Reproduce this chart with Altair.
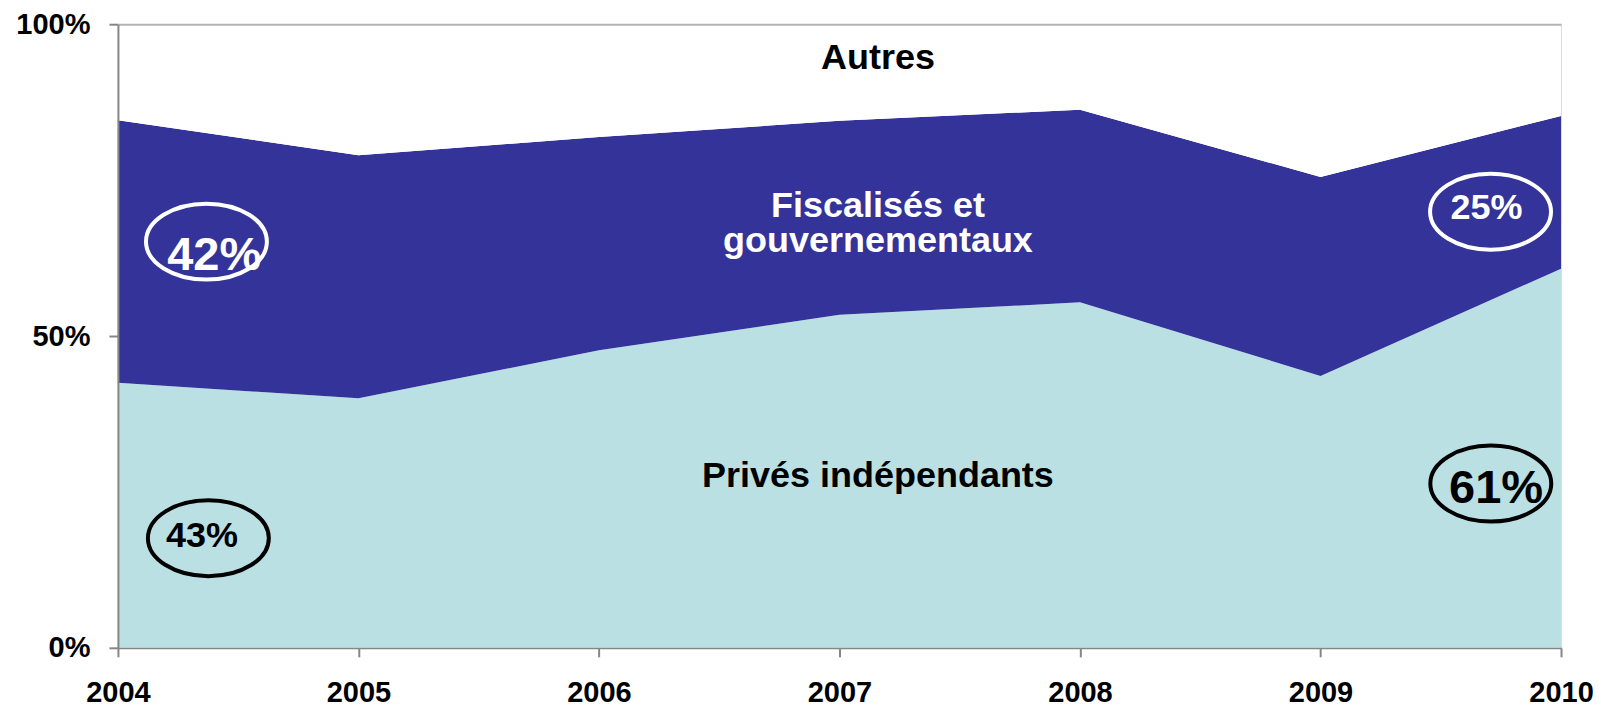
import altair as alt
import pandas as pd

# ---- data ----
years = [2004, 2005, 2006, 2007, 2008, 2009, 2010]
prives = [42.5, 40.0, 47.7, 53.4, 55.4, 43.6, 60.8]
fiscalises = [42.1, 39.0, 34.2, 31.1, 30.9, 31.9, 24.5]
autres = [15.4, 21.0, 18.1, 15.5, 13.7, 24.5, 14.7]

series_names = ["Privés indépendants", "Fiscalisés et gouvernementaux", "Autres"]
series_colors = ["#BBE0E3", "#333399", "#FFFFFF"]

# annotation labels (text, x in years, y in %)
label_texts = ["Autres", "Fiscalisés et", "gouvernementaux", "Privés indépendants",
               "42%", "43%", "25%", "61%"]
label_x = [2007.16, 2007.16, 2007.16, 2007.16, 2004.40, 2004.35, 2009.69, 2009.73]
label_y = [92.75, 69.14, 63.54, 25.81, 60.61, 16.09, 68.73, 23.30]
label_colors = ["black", "white", "white", "black", "white", "black", "white", "black"]
label_sizes = [36, 36, 36, 36, 47, 36, 36, 47]

# ellipse outlines around the percentages
ell_x = [2004.368, 2004.376, 2009.707, 2009.708]
ell_y = [65.14, 17.58, 69.94, 26.34]
ell_colors = ["white", "black", "white", "black"]

# ---- tables ----
rows = []
for i, y in enumerate(years):
    for k, (name, vals) in enumerate(zip(series_names, [prives, fiscalises, autres])):
        rows.append({"year": y, "series": name, "value": vals[i], "ord": k})
df = pd.DataFrame(rows)

labels_df = pd.DataFrame({"text": label_texts, "x": label_x, "y": label_y,
                          "color": label_colors, "size": label_sizes})
ell_df = pd.DataFrame({"x": ell_x, "y": ell_y, "color": ell_colors})

GRAY = "#868686"
xscale = alt.Scale(domain=[2004, 2010], nice=False, zero=False)
yscale = alt.Scale(domain=[0, 100], nice=False)

area = alt.Chart(df).mark_area(interpolate="linear").encode(
    x=alt.X("year:Q", scale=xscale,
            axis=alt.Axis(values=years, format="d", title=None, grid=False,
                          labelFontSize=29, labelFontWeight="bold", labelColor="black",
                          tickSize=9, tickColor=GRAY, tickWidth=2,
                          domainColor=GRAY, domainWidth=2, labelPadding=22,
                          labelFlush=False)),
    y=alt.Y("value:Q", stack="zero", scale=yscale,
            axis=alt.Axis(values=[0, 50, 100], labelExpr="datum.value + '%'", title=None,
                          labelFontSize=29, labelFontWeight="bold", labelColor="black",
                          tickSize=9, tickColor=GRAY, tickWidth=2,
                          domainColor=GRAY, domainWidth=2, labelPadding=19,
                          grid=True, gridColor="#B4B4B4", gridWidth=2,
                          gridOpacity={"condition": {"test": "datum.value === 100", "value": 1},
                                       "value": 0},
                          zindex=1)),
    color=alt.Color("series:N", scale=alt.Scale(domain=series_names, range=series_colors),
                    legend=None),
    order=alt.Order("ord:Q"),
)

ELLIPSE = ("M-1,0C-1,-0.3468,-0.5523,-0.628,0,-0.628C0.5523,-0.628,1,-0.3468,1,0"
           "C1,0.3468,0.5523,0.628,0,0.628C-0.5523,0.628,-1,0.3468,-1,0Z")

ellipses = alt.Chart(ell_df).mark_point(shape=ELLIPSE, filled=False, strokeWidth=4,
                                        size=14641, opacity=1).encode(
    x=alt.X("x:Q", scale=xscale),
    y=alt.Y("y:Q", scale=yscale),
    color=alt.Color("color:N", scale=None),
)

texts = alt.Chart(labels_df).mark_text(fontWeight="bold", baseline="alphabetic",
                                       align="center").encode(
    x=alt.X("x:Q", scale=xscale),
    y=alt.Y("y:Q", scale=yscale),
    text="text:N",
    color=alt.Color("color:N", scale=None),
    size=alt.Size("size:Q", scale=None),
)

chart = alt.layer(area, ellipses, texts).properties(
    width=1444, height=624,
    padding={"left": 110, "top": 16, "right": 32, "bottom": 60},
    autosize="none",
).configure_view(stroke=None).configure(font="Liberation Sans")

chart.save("out.html", embed_options={"renderer": "svg", "actions": False})
